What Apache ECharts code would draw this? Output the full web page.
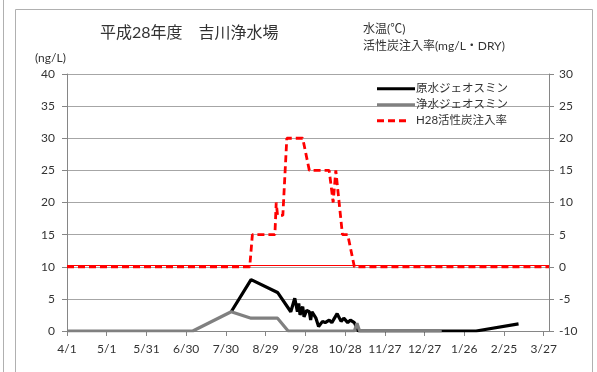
<!DOCTYPE html>
<html>
<head>
<meta charset="utf-8">
<script src="https://cdn.jsdelivr.net/npm/echarts@6/dist/echarts.min.js"></script>
<style>
  html, body { margin: 0; padding: 0; background: #fff; }
  #chart { width: 597px; height: 372px; }
</style>
</head>
<body>
<div id="chart"></div>
<script>
// Fiscal year H28 starts on 2016-04-01; the x axis counts days from that date.
const START = '2016-04-01';
const AXIS_DAYS = 364;          // 4/1 .. 3/31
const TICK_DAYS = 30;

// 原水ジェオスミン (ng/L)
const rawDates = ['2016-08-03','2016-08-18','2016-09-07','2016-09-17','2016-09-20','2016-09-22',
  '2016-09-23','2016-09-24','2016-09-26','2016-09-27','2016-09-29','2016-10-01','2016-10-02',
  '2016-10-03','2016-10-06','2016-10-08','2016-10-11','2016-10-13','2016-10-16','2016-10-18',
  '2016-10-22','2016-10-25','2016-10-27','2016-10-30','2016-11-01','2016-11-04','2016-11-05',
  '2016-11-07','2017-02-04','2017-03-08'];
const rawValues = [3.0, 8.0, 6.0, 3.0, 5.1, 3.0,
  4.3, 2.5, 3.8, 2.2, 3.2, 3.0, 1.7,
  3.0, 2.0, 0.7, 1.5, 1.3, 1.7, 1.3,
  2.7, 1.5, 2.0, 1.3, 1.7, 1.3, 1.5,
  0, 0, 1.1];

// 浄水ジェオスミン (ng/L)
const treatedDates = ['2016-04-01','2016-07-05','2016-08-03','2016-08-18','2016-09-07','2016-09-15',
  '2016-11-04','2016-11-06','2016-11-08','2017-01-09'];
const treatedValues = [0, 0, 3.0, 2.0, 2.0, 0, 0, 1.2, 0, 0];

// H28活性炭注入率 (mg/L・DRY)
const carbonDates = ['2016-04-01','2016-08-17','2016-08-19','2016-09-05','2016-09-06','2016-09-07',
  '2016-09-11','2016-09-14','2016-09-26','2016-10-01','2016-10-16','2016-10-19','2016-10-21',
  '2016-10-26','2016-10-30','2016-11-01','2016-11-04','2017-03-31'];
const carbonValues = [0, 0, 5, 5, 10, 8, 8, 20, 20, 15, 15, 10, 15, 5, 5, 3, 0, 0];

// thin reference line on the ng/L axis
const referenceLevel = 10.3;

const leftTicks = { min: 0, max: 40, interval: 5 };
const rightTicks = { min: -10, max: 30, interval: 5 };

const DAY_MS = 86400000;
const t0 = Date.parse(START + 'T00:00:00Z');
const dayOf = d => Math.round((Date.parse(d + 'T00:00:00Z') - t0) / DAY_MS);
const pairs = (dates, vals) => dates.map((d, i) => [dayOf(d), vals[i]]);

const FONT = 'Lato, "Noto Sans CJK JP", sans-serif';
const TXT = '#333';
const AXIS = '#868686';
const GRID = '#a6a6a6';

// legend keys: a solid bar and a three-dash bar (tiny point at x=38 keeps the width)
const SOLID_KEY = 'path://M0,0H38V3H0Z';
const DASH_KEY = 'path://M0,0H7V3H0Z M11,0H18V3H11Z M22,0H29V3H22Z M37.9,1.45H38V1.55H37.9Z';

const chart = echarts.init(document.getElementById('chart'), null, { renderer: 'canvas' });

chart.setOption({
  animation: false,
  backgroundColor: '#fff',
  textStyle: { fontFamily: FONT },
  grid: { left: 67, right: 48, top: 74, bottom: 41 },
  graphic: [
    { type: 'line', shape: { x1: 3.5, y1: 0, x2: 3.5, y2: 372 }, style: { stroke: '#b0b0b0', lineWidth: 1 } },
    { type: 'rect', shape: { x: 15.5, y: 9.5, width: 577, height: 380 }, style: { fill: 'none', stroke: '#b0b0b0', lineWidth: 1 } },
    { type: 'text', left: 100, top: 25, style: { text: '平成28年度　吉川浄水場', font: '16px ' + FONT, fill: TXT } },
    { type: 'text', left: 363, top: 23, style: { text: '水温(℃)', font: '12px ' + FONT, fill: TXT } },
    { type: 'text', left: 363, top: 40, style: { text: '活性炭注入率(mg/L・DRY)', font: '12px ' + FONT, fill: TXT } },
    { type: 'text', left: 35, top: 52, style: { text: '(ng/L)', font: '12px ' + FONT, fill: TXT } }
  ],
  legend: {
    orient: 'vertical',
    left: 372, top: 78,
    itemWidth: 38, itemHeight: 3, itemGap: 4.5, symbolKeepAspect: false,
    textStyle: { fontFamily: FONT, fontSize: 11.5, color: TXT, padding: [0, 0, 0, -4] },
    data: [
      { name: '原水ジェオスミン', icon: SOLID_KEY },
      { name: '浄水ジェオスミン', icon: SOLID_KEY },
      { name: 'H28活性炭注入率', icon: DASH_KEY }
    ]
  },
  xAxis: {
    type: 'value',
    min: 0, max: AXIS_DAYS, interval: TICK_DAYS,
    axisLine: { lineStyle: { color: AXIS } },
    axisTick: { show: true, inside: false, length: 5, lineStyle: { color: AXIS } },
    splitLine: { show: false },
    axisLabel: {
      color: TXT, fontSize: 12, fontFamily: FONT, margin: 12, showMaxLabel: false,
      formatter: v => {
        if (v % TICK_DAYS !== 0) return '';
        const d = new Date(t0 + v * DAY_MS);
        return (d.getUTCMonth() + 1) + '/' + d.getUTCDate();
      }
    }
  },
  yAxis: [
    {
      type: 'value', position: 'left', ...leftTicks,
      axisLine: { show: true, lineStyle: { color: AXIS } },
      axisTick: { show: true, length: 5, lineStyle: { color: AXIS } },
      splitLine: { lineStyle: { color: GRID } },
      axisLabel: { color: TXT, fontSize: 12, fontFamily: FONT, margin: 12 }
    },
    {
      type: 'value', position: 'right', ...rightTicks,
      axisLine: { show: true, lineStyle: { color: AXIS } },
      axisTick: { show: true, length: 5, lineStyle: { color: AXIS } },
      splitLine: { show: false },
      axisLabel: { color: TXT, fontSize: 12, fontFamily: FONT, margin: 10 }
    }
  ],
  series: [
    {
      name: '原水ジェオスミン', type: 'line', yAxisIndex: 0,
      data: pairs(rawDates, rawValues),
      symbol: 'none', color: '#000',
      lineStyle: { color: '#000', width: 3.2 },
      markLine: {
        silent: true, symbol: 'none', label: { show: false },
        lineStyle: { color: '#ff0000', width: 1, type: 'solid' },
        data: [{ yAxis: referenceLevel }]
      }
    },
    {
      name: '浄水ジェオスミン', type: 'line', yAxisIndex: 0,
      data: pairs(treatedDates, treatedValues),
      symbol: 'none', color: '#808080',
      lineStyle: { color: '#808080', width: 3.2 }
    },
    {
      name: 'H28活性炭注入率', type: 'line', yAxisIndex: 1,
      data: pairs(carbonDates, carbonValues),
      symbol: 'none', color: '#ff0000',
      lineStyle: { color: '#ff0000', width: 2.8, type: [7, 4] }
    }
  ]
});
</script>
</body>
</html>
